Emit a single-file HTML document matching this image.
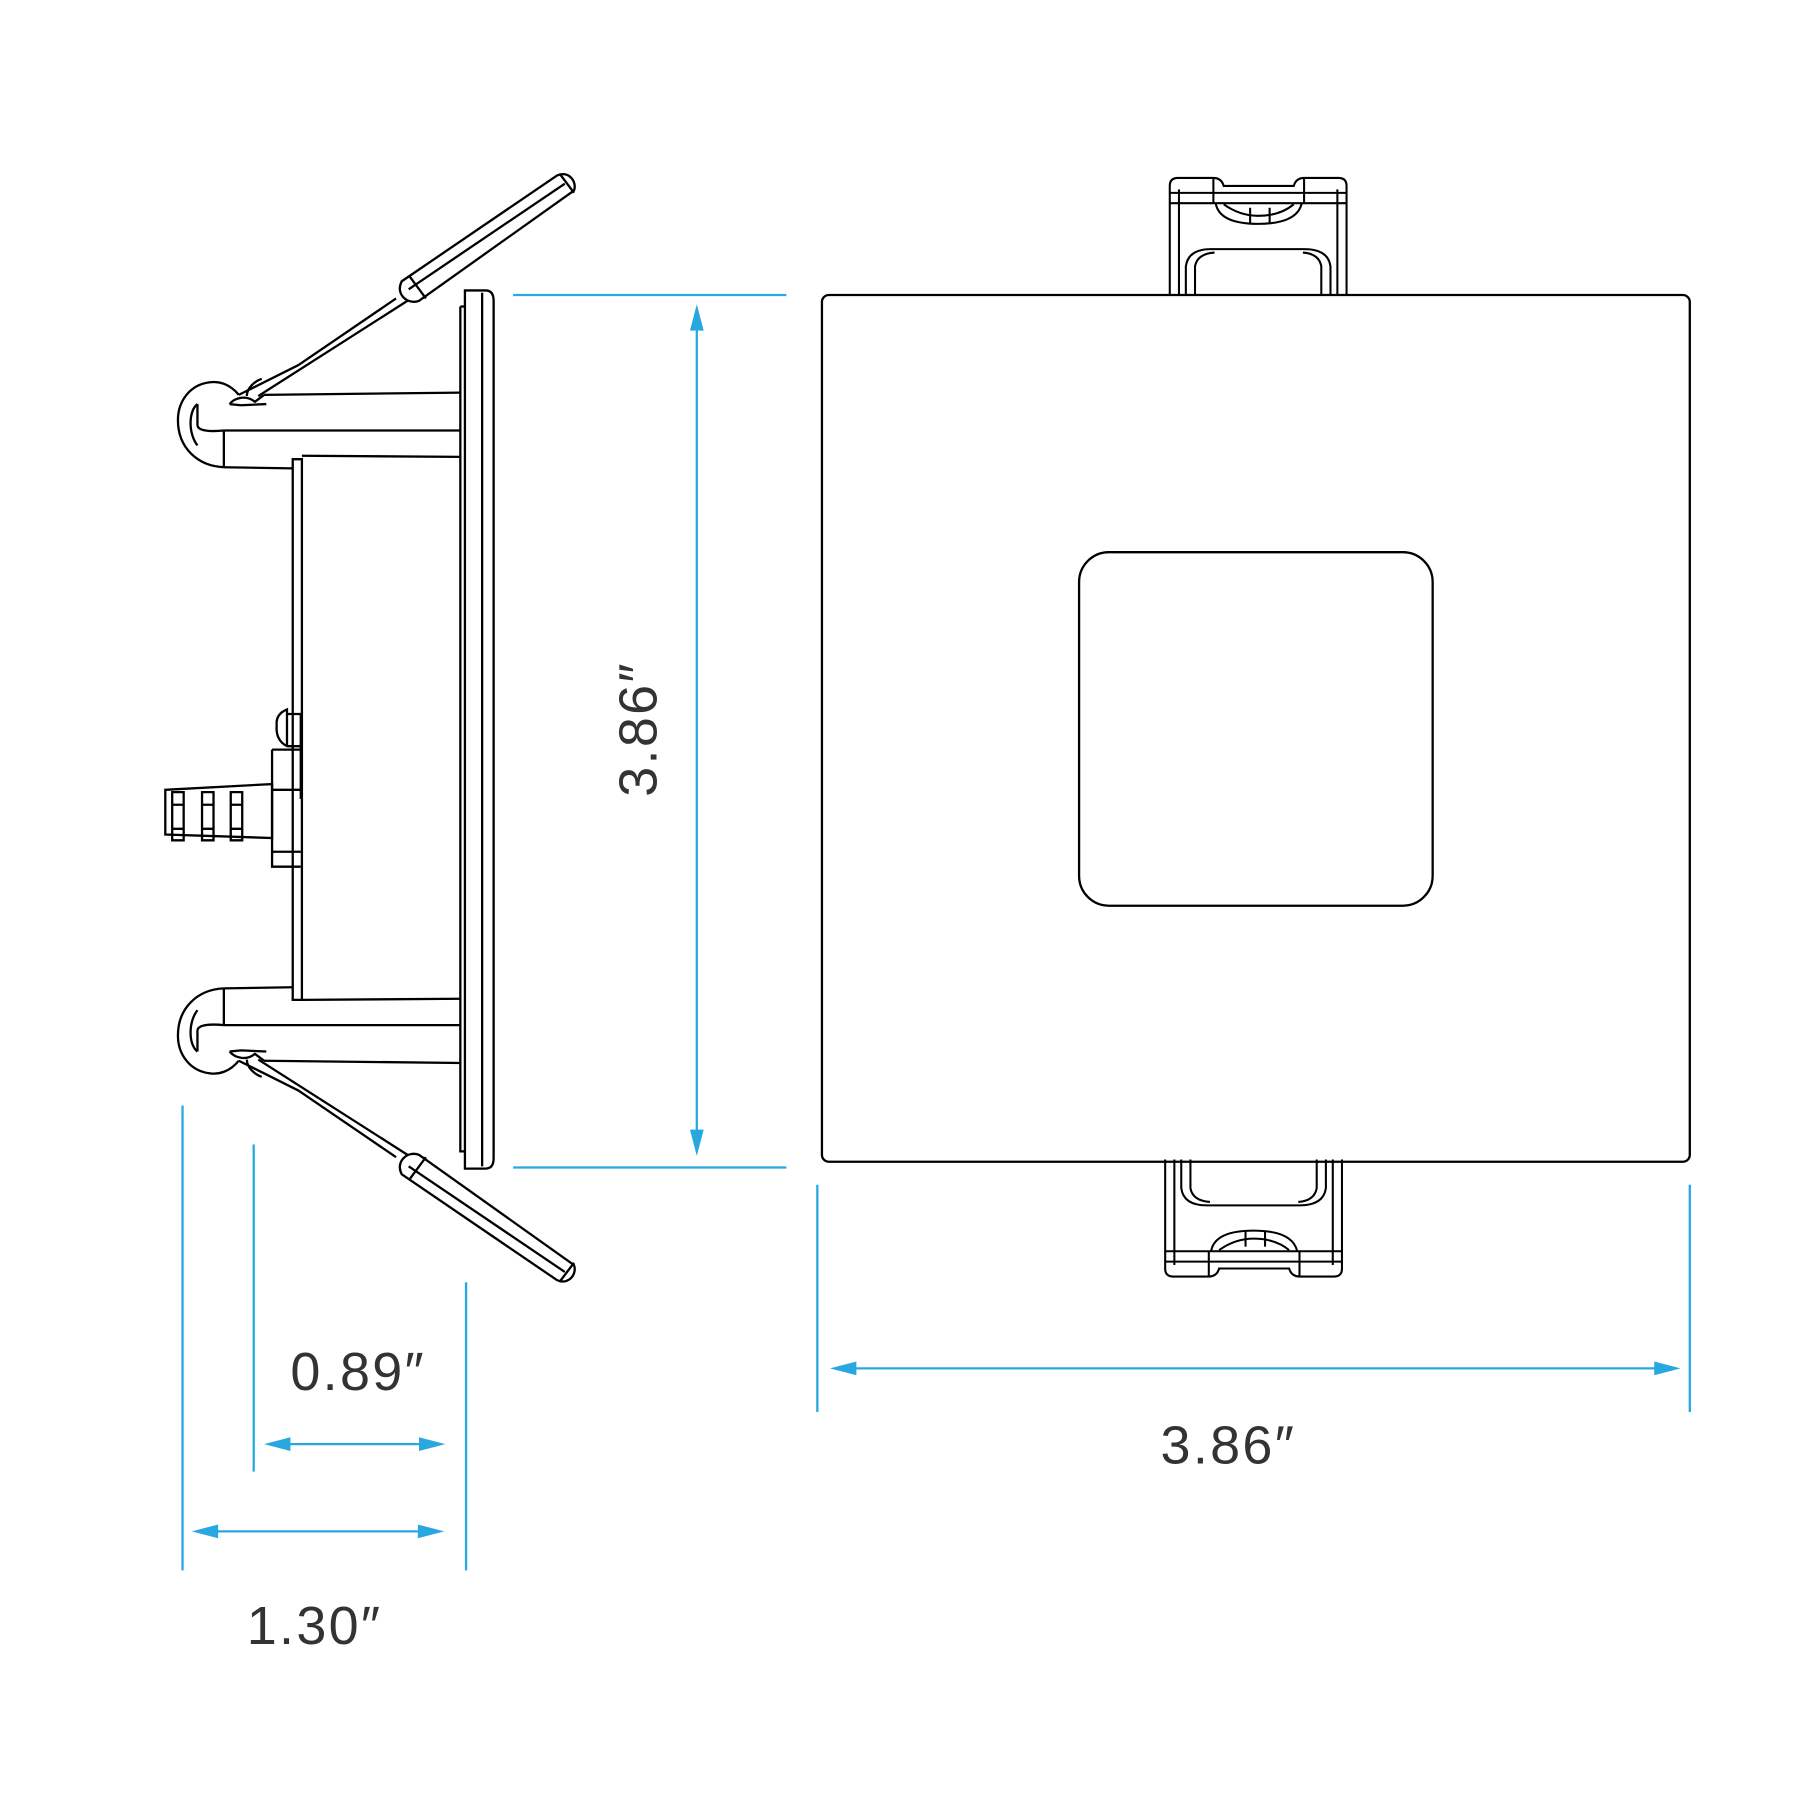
<!DOCTYPE html>
<html><head><meta charset="utf-8"><style>
html,body{margin:0;padding:0;background:#fff;}
svg{display:block;}
text{font-family:"Liberation Sans",sans-serif;fill:#333;font-size:47px;letter-spacing:2px;}
</style></head><body>
<svg width="1800" height="1800" viewBox="0 0 1568 1568" xmlns="http://www.w3.org/2000/svg">
<defs>
<g id="clip" fill="none" stroke="#000" stroke-width="2" stroke-linejoin="round">
  <path d="M230 344 L402 342"/>
  <path d="M195 375 L402 375"/>
  <path d="M195 407 L255 408"/>
  <path d="M195 375 L195 407"/>
  <path d="M208 344 C200 334 190 332 183 333 C165 335 155 350 155 366 C155 390 172 406 195 407"/>
  <path d="M172 352 C164 358 164 378 172 388"/>
  <path d="M172 352 L172 370 C172 376 185 376 195 375"/>
  <path d="M200 352 C205 346 215 344 222 350 L230 344"/>
  <path d="M200 352 L210 353 L232 352"/>
  <path d="M208 344 L260 318 L345 260"/>
  <path d="M225 345 L355 262"/>
  <path d="M215 345 C215 338 222 332 228 330"/>
  <path d="M350 245 L485 153 C495 148 503 158 500 166 L365 262 C355 266 344 256 350 245 Z"/>
  <path d="M357 241 L371 260"/>
  <path d="M488 152 L500 168"/>
  <path d="M356 252 L492 160"/>
</g>
<g id="tab" fill="none" stroke="#000" stroke-width="1.8">
  <path d="M1019 257 L1019 162 Q1019 155 1026 155 L1057 155 Q1064 155 1066 162 L1127 162 Q1129 155 1136 155 L1166 155 Q1173 155 1173 162 L1173 257"/>
  <path d="M1027 257 L1027 165 M1165 257 L1165 165"/>
  <path d="M1019 168 L1173 168 M1019 177 L1173 177"/>
  <path d="M1057 155 L1057 177 M1136 155 L1136 177"/>
  <path d="M1059 177 Q1062 195 1096 195 Q1130 195 1134 177"/>
  <path d="M1066 178 Q1080 188 1096 188 Q1115 188 1127 178"/>
  <path d="M1089 181 L1089 195 M1106 181 L1106 195"/>
  <path d="M1033 257 L1033 232 Q1035 217 1055 217 L1136 217 Q1157 217 1159 232 L1159 257"/>
  <path d="M1041 257 L1041 232 Q1043 221 1058 220 M1151 257 L1151 232 Q1149 221 1135 220"/>
</g>
</defs>

<use href="#clip"/>
<use href="#clip" transform="translate(0,1268) scale(1,-1)"/>
<g fill="none" stroke="#000" stroke-width="2">
  <path d="M405 253 L423 253 Q430 253 430 262 L430 1009 Q430 1018 423 1018 L405 1018 Z"/>
  <path d="M420 255 L420 1016"/>
  <path d="M401 267 L405 267 M401 267 L401 1003 L405 1003"/>
  <path d="M263 397 L402 398"/>
  <path d="M263 871 L402 870"/>
  <path d="M255 400 L263 400 L263 871 L255 871 Z"/>
  <path d="M237 653 L237 755 L262 755"/>
  <path d="M237 653 L262 653"/>
  <path d="M237 688 L262 688 M237 742 L262 742"/>
  <path d="M250 650 Q240 645 241 632 Q240 622 250 618 L250 650"/>
  <path d="M250 622 L262 622 L262 696 M250 650 L262 650"/>
  <path d="M144 688 L237 683 L237 730 L144 727 Z"/>
  <path d="M150 690 h10 v42 h-10 z M176 690 h10 v42 h-10 z M201 690 h10 v42 h-10 z"/>
  <path d="M150 701 h10 M150 722 h10 M176 701 h10 M176 722 h10 M201 701 h10 M201 722 h10"/>
</g>

<rect x="716" y="257" width="756" height="755" rx="6" fill="none" stroke="#000" stroke-width="2"/>
<rect x="940" y="481" width="308" height="308" rx="26" fill="none" stroke="#000" stroke-width="2"/>
<use href="#tab"/>
<use href="#tab" transform="translate(-4,1267) scale(1,-1)"/>

<g stroke="#29a8e0" stroke-width="2" fill="none">
  <path d="M447 257 H685 M447 1017 H685"/>
  <path d="M607 285 V988"/>
  <path d="M712 1032 V1230 M1472 1032 V1230"/>
  <path d="M742 1192 H1445"/>
  <path d="M221 997 V1282 M406 1117 V1368 M159 963 V1368"/>
  <path d="M250 1258 H370"/>
  <path d="M188 1334 H368"/>
</g>
<g fill="#29a8e0">
  <polygon points="607,265 601,288 613,288"/>
  <polygon points="607,1007 601,984 613,984"/>
  <polygon points="723,1192 746,1186 746,1198"/>
  <polygon points="1464,1192 1441,1186 1441,1198"/>
  <polygon points="230,1258 253,1252 253,1264"/>
  <polygon points="388,1258 365,1252 365,1264"/>
  <polygon points="167,1334 190,1328 190,1340"/>
  <polygon points="387,1334 364,1328 364,1340"/>
</g>
<text x="312" y="1211" text-anchor="middle">0.89″</text>
<text x="274" y="1432" text-anchor="middle">1.30″</text>
<text x="1070" y="1275" text-anchor="middle">3.86″</text>
<text x="0" y="0" text-anchor="middle" transform="translate(572,635) rotate(-90)">3.86″</text>
</svg>
</body></html>
